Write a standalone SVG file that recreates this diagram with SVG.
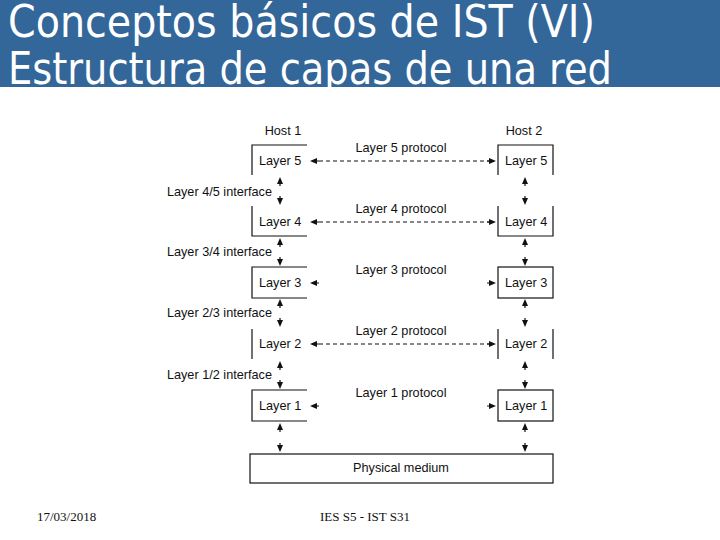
<svg xmlns="http://www.w3.org/2000/svg" xmlns:xlink="http://www.w3.org/1999/xlink" width="720" height="540" viewBox="0 0 720 540">
<style>
.t{font-family:"Liberation Sans",Arial,sans-serif;font-size:12.7px;fill:#111}
.title{font-family:"DejaVu Sans Condensed","DejaVu Sans",sans-serif;font-size:44px;fill:#fff}
.foot{font-family:"Liberation Serif","Times New Roman",serif;font-size:13px;fill:#111}
.b{fill:none;stroke:#111;stroke-width:1.2}
.d{fill:none;stroke:#111;stroke-width:1;stroke-dasharray:4,3}
.a{fill:#111}
</style>
<defs>
<clipPath id="bar"><rect x="0" y="0" width="720" height="87"/></clipPath>
<path id="up" d="M0,0 L3,7 L-3,7 Z M-0.6,7 h1.2 v2 h-1.2 Z"/>
<path id="dn" d="M0,0 L3,-7 L-3,-7 Z M-0.6,-7 h1.2 v-2 h-1.2 Z"/>
<path id="lf" d="M0,0 L7,-3 L7,3 Z M7,-0.6 v1.2 h2 v-1.2 Z"/>
<path id="rt" d="M0,0 L-7,-3 L-7,3 Z M-7,-0.6 v1.2 h-2 v-1.2 Z"/>
</defs>
<rect width="720" height="540" fill="#fff"/>
<g id="title" clip-path="url(#bar)">
<rect x="0" y="0" width="720" height="87" fill="#336699"/>
<text class="title" x="8" y="37" textLength="587" lengthAdjust="spacingAndGlyphs">Conceptos básicos de IST (VI)</text>
<text class="title" x="8" y="84" textLength="604" lengthAdjust="spacingAndGlyphs">Estructura de capas de una red</text>
</g>
<g id="host1-label"><text class="t" x="283" y="135" text-anchor="middle">Host 1</text></g>
<g id="host2-label"><text class="t" x="524" y="135" text-anchor="middle">Host 2</text></g>
<g id="h1-l5"><path class="b" d="M252,175 V145 H307"/><text class="t" x="259" y="165">Layer 5</text></g>
<g id="h1-l4"><path class="b" d="M252,206 V236 H307"/><text class="t" x="259" y="226">Layer 4</text></g>
<g id="h1-l3"><path class="b" d="M307,267 H252 V298 H307"/><text class="t" x="259" y="287">Layer 3</text></g>
<g id="h1-l2"><path class="b" d="M252,329 V359"/><text class="t" x="259" y="348">Layer 2</text></g>
<g id="h1-l1"><path class="b" d="M307,390 H252 V421 H307"/><text class="t" x="259" y="410">Layer 1</text></g>
<g id="h2-l5"><path class="b" d="M498,175 V145 H553 V175"/><text class="t" x="505" y="165">Layer 5</text></g>
<g id="h2-l4"><path class="b" d="M498,206 V236 H553 V206"/><text class="t" x="505" y="226">Layer 4</text></g>
<g id="h2-l3"><rect class="b" x="498" y="267" width="55" height="31"/><text class="t" x="505" y="287">Layer 3</text></g>
<g id="h2-l2"><path class="b" d="M498,329 V359 M553,329 V359"/><text class="t" x="505" y="348">Layer 2</text></g>
<g id="h2-l1"><rect class="b" x="498" y="390" width="55" height="31"/><text class="t" x="505" y="410">Layer 1</text></g>
<g id="medium"><rect class="b" x="250" y="454" width="303" height="29"/><text class="t" x="401" y="472" text-anchor="middle">Physical medium</text></g>
<g id="interfaces">
<text class="t" x="272" y="196" text-anchor="end">Layer 4/5 interface</text>
<text class="t" x="272" y="256" text-anchor="end">Layer 3/4 interface</text>
<text class="t" x="272" y="317" text-anchor="end">Layer 2/3 interface</text>
<text class="t" x="272" y="379" text-anchor="end">Layer 1/2 interface</text>
</g>
<g id="protocols">
<text class="t" x="401" y="152" text-anchor="middle">Layer 5 protocol</text>
<text class="t" x="401" y="213" text-anchor="middle">Layer 4 protocol</text>
<text class="t" x="401" y="274" text-anchor="middle">Layer 3 protocol</text>
<text class="t" x="401" y="335" text-anchor="middle">Layer 2 protocol</text>
<text class="t" x="401" y="397" text-anchor="middle">Layer 1 protocol</text>
</g>
<g id="connectors" class="a">
<line class="d" x1="319" y1="161" x2="489" y2="161"/>
<line class="d" x1="319" y1="222" x2="489" y2="222"/>
<line class="d" x1="319" y1="344" x2="489" y2="344"/>
<use href="#lf" x="310" y="161"/><use href="#rt" x="496" y="161"/>
<use href="#lf" x="310" y="222"/><use href="#rt" x="496" y="222"/>
<use href="#lf" x="310" y="283"/><use href="#rt" x="496" y="283"/>
<use href="#lf" x="310" y="344"/><use href="#rt" x="496" y="344"/>
<use href="#lf" x="310" y="406"/><use href="#rt" x="496" y="406"/>
<use href="#up" x="280" y="177"/><use href="#dn" x="280" y="205"/>
<use href="#up" x="280" y="238"/><use href="#dn" x="280" y="266"/>
<use href="#up" x="280" y="299"/><use href="#dn" x="280" y="327"/>
<use href="#up" x="280" y="361"/><use href="#dn" x="280" y="389"/>
<use href="#up" x="280" y="423"/><use href="#dn" x="280" y="452"/>
<use href="#up" x="525" y="177"/><use href="#dn" x="525" y="205"/>
<use href="#up" x="525" y="238"/><use href="#dn" x="525" y="266"/>
<use href="#up" x="525" y="299"/><use href="#dn" x="525" y="327"/>
<use href="#up" x="525" y="361"/><use href="#dn" x="525" y="389"/>
<use href="#up" x="525" y="423"/><use href="#dn" x="525" y="452"/>
</g>
<g id="footer">
<text class="foot" x="37" y="521">17/03/2018</text>
<text class="foot" x="365" y="521" text-anchor="middle">IES S5 - IST S31</text>
</g>
</svg>
